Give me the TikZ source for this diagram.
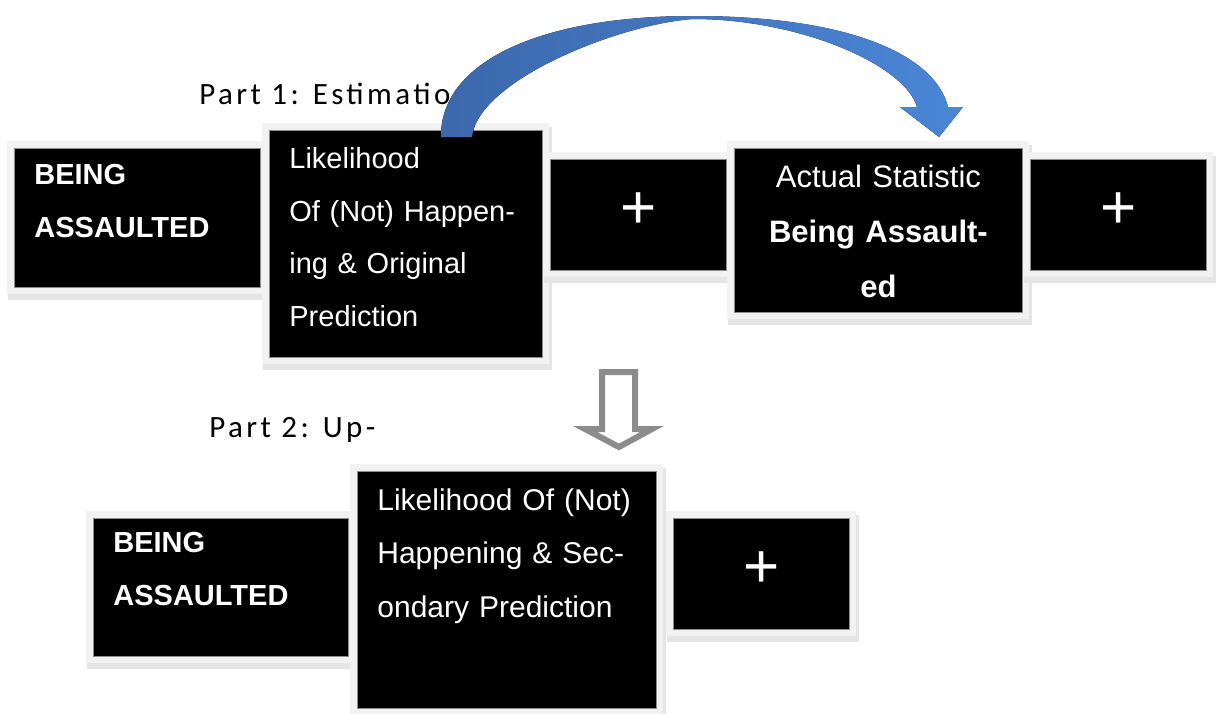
\documentclass[tikz,border=0pt]{standalone}
\usepackage{fontspec}
\setmainfont{Liberation Sans}
\newfontfamily\partfont[LetterSpace=11]{Carlito}
\usepackage{tikz}
\definecolor{arcL}{RGB}{60,104,172}
\definecolor{arcR}{RGB}{74,134,214}
\definecolor{hollow}{RGB}{140,140,140}

\begin{document}
\begin{tikzpicture}[
		x=0.5pt, y=-0.5pt,
		tilebox/.style={fill=black, draw=black!45, line width=0.4pt, text=white,
				anchor=north west, inner xsep=10pt, inner ysep=0pt, align=left,
				preaction={draw=black!10, fill=black!10, line width=8pt,
						transform canvas={shift={(1pt,-2.5pt)}}},
				preaction={draw=black!5, line width=7pt}},
		capstext/.style={font=\bfseries\fontsize{14.5}{26.3}\selectfont},
		bodytext/.style={font=\fontsize{14.5}{26.3}\selectfont},
		plusbox/.style={tilebox, align=center, text width=68pt, text height=34.5pt,
				text depth=21pt, font=\fontsize{31}{31}\selectfont},
		partlabel/.style={font=\partfont\fontsize{15.5}{18}\selectfont,
				anchor=base west, inner sep=0pt}
		]
		\useasboundingbox (0,0) rectangle (1216,713);
		% part 1 row
		\node[partlabel] (partA) at (199,104) {Part 1: Estimation};
		\node[tilebox, capstext, text width=103pt, text height=18pt,
			text depth=51.5pt] (beingA) at (14,148) {BEING\\ASSAULTED};
		\node[tilebox, bodytext, text width=116.5pt, text height=19pt,
			text depth=94.5pt] (likelyA) at (269,130)
		{Likelihood\\Of (Not) Happen-\\ing \& Original\\Prediction};
		\node[plusbox] (plusA) at (550,159) {+};
		\node[tilebox, align=center, font=\fontsize{15.5}{27.5}\selectfont,
			text width=124pt, text height=19.5pt, text depth=62.5pt] (actual)
		at (734,148) {Actual Statistic\\\textbf{Being Assault-}\\\textbf{ed}};
		\node[plusbox] (plusB) at (1030,159) {+};
		% part 2 row
		\node[partlabel] (partB) at (209,437) {Part 2: Up-};
		\node[tilebox, capstext, text width=107.5pt, text height=17pt,
			text depth=52pt] (beingB) at (93,518) {BEING\\ASSAULTED};
		\node[tilebox, font=\fontsize{15}{26.75}\selectfont, text width=129.5pt,
			text height=19.5pt, text depth=99pt] (likelyB) at (357,471)
		{Likelihood Of (Not)\\Happening \& Sec-\\ondary Prediction};
		\node[plusbox] (plusC) at (673,518) {+};
		% curved block arrow
		\fill[left color=arcL, right color=arcR]
		(441,137) .. controls (440,62) and (540,16) .. (693,16)
		.. controls (850,16) and (935,55) .. (948,107)
		-- (963,107) -- (939,137) -- (900,107) -- (917,107)
		.. controls (905,65) and (800,19) .. (693,19)
		.. controls (620,24) and (478,80) .. (472,137) -- cycle;
		% hollow down arrow
		\draw[hollow, line width=3pt, fill=white]
		(602,372) -- (635,372) -- (635,429) -- (652,429) -- (619,447)
		-- (585,429) -- (602,429) -- cycle;
	\end{tikzpicture}
\end{document}
